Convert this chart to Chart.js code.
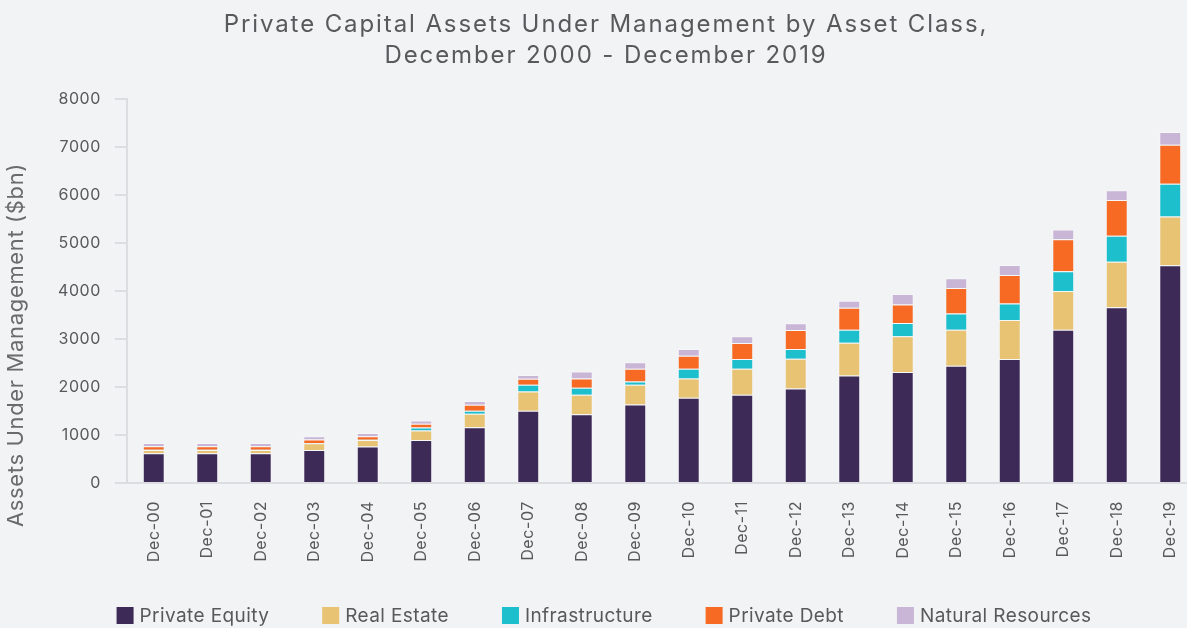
<!DOCTYPE html>
<html>
<head>
<meta charset="utf-8">
<script src="https://cdn.jsdelivr.net/npm/chart.js@4"></script>
<style>
html,body{margin:0;padding:0;background:#f2f3f5;overflow:hidden;}
#wrap{width:1212px;height:628px;position:relative;}
canvas{display:block;}
</style>
</head>
<body>
<div id="wrap"><canvas id="c" width="1212" height="628"></canvas></div>
<script>
const categories = ["Dec-00","Dec-01","Dec-02","Dec-03","Dec-04","Dec-05","Dec-06","Dec-07","Dec-08","Dec-09","Dec-10","Dec-11","Dec-12","Dec-13","Dec-14","Dec-15","Dec-16","Dec-17","Dec-18","Dec-19"];
const privateEquity    = [620, 620, 620, 690, 758, 898, 1163, 1503, 1434, 1635, 1775, 1837, 1969, 2240, 2311, 2443, 2582, 3194, 3660, 4537];
const realEstate       = [70, 70, 70, 140, 140, 195, 278, 403, 403, 410, 403, 543, 619, 682, 745, 752, 814, 808, 947, 1016];
const infrastructure   = [5, 5, 5, 5, 5, 63, 63, 140, 146, 70, 202, 202, 202, 271, 278, 334, 341, 410, 543, 682];
const privateDebt      = [70, 70, 70, 70, 70, 77, 125, 125, 195, 264, 271, 334, 397, 459, 383, 536, 598, 668, 745, 814];
const naturalResources = [70, 70, 70, 70, 70, 70, 77, 77, 146, 139, 139, 139, 139, 146, 223, 202, 209, 202, 202, 264];
const seriesNames = ["Private Equity","Real Estate","Infrastructure","Private Debt","Natural Resources"];
const seriesColors = ["#3d2a56","#e8c373","#1dbfcd","#f66a24","#c9b6d6"];
const yTicks = [0,1000,2000,3000,4000,5000,6000,7000,8000];
const titleLines = ["Private Capital Assets Under Management by Asset Class,","December 2000 - December 2019"];
const yTitle = "Assets Under Management ($bn)";

const FONT = "Inter, 'Noto Sans', sans-serif";
const TEXT = "#58595b";

const seriesData = [privateEquity, realEstate, infrastructure, privateDebt, naturalResources];

const extrasPlugin = {
  id: 'extras',
  beforeDraw(chart) {
    chart.ctx.letterSpacing = '0.6px';
  },
  afterDraw(chart) {
    const ctx = chart.ctx;
    ctx.save();
    const cx = 606;
    // title
    ctx.letterSpacing = '1.9px';
    ctx.font = `24px ${FONT}`;
    ctx.fillStyle = TEXT;
    ctx.textAlign = 'center';
    ctx.textBaseline = 'alphabetic';
    ctx.fillText(titleLines[0], cx, 32);
    ctx.fillText(titleLines[1], cx, 63);
    // legend
    ctx.letterSpacing = '0.4px';
    ctx.font = `19px ${FONT}`;
    const box = 17, gap = 6, spacing = 53;
    const widths = chart.data.datasets.map(d => box + gap + ctx.measureText(d.label).width);
    const total = widths.reduce((a, b) => a + b, 0) + spacing * (widths.length - 1);
    let x = 604 - total / 2;
    const yMid = 615.5;
    chart.data.datasets.forEach((ds, i) => {
      ctx.fillStyle = ds.backgroundColor;
      ctx.fillRect(x, yMid - box / 2, box, box);
      ctx.fillStyle = TEXT;
      ctx.textBaseline = 'middle';
      ctx.textAlign = 'left';
      ctx.fillText(ds.label, x + box + gap, yMid + 1);
      x += widths[i] + spacing;
    });
    // y-axis title
    ctx.letterSpacing = '0.65px';
    ctx.translate(16, 345);
    ctx.rotate(-Math.PI / 2);
    ctx.font = `22px ${FONT}`;
    ctx.textAlign = 'center';
    ctx.textBaseline = 'middle';
    ctx.fillStyle = '#6a6b6d';
    ctx.fillText(yTitle, 0, 0);
    ctx.restore();
    ctx.letterSpacing = '0px';
  }
};

new Chart(document.getElementById('c'), {
  type: 'bar',
  data: {
    labels: categories,
    datasets: seriesData.map((d, i) => ({
      label: seriesNames[i],
      data: d,
      backgroundColor: seriesColors[i],
      borderColor: 'rgba(255,255,255,0.35)',
      borderWidth: 1,
      barPercentage: 0.41,
      categoryPercentage: 1.0
    }))
  },
  options: {
    responsive: false,
    animation: false,
    layout: { padding: { top: 99, right: 15, bottom: 0, left: 0 } },
    plugins: {
      legend: { display: false },
      tooltip: { enabled: false },
      title: { display: false }
    },
    scales: {
      x: {
        stacked: true,
        grid: { display: false, drawTicks: false },
        border: { display: true, color: '#dcdde0', width: 2 },
        ticks: { autoSkip: false, minRotation: 90, maxRotation: 90, padding: 18, color: TEXT, font: { family: FONT, size: 16 } },
        afterFit(s) { s.height = 145; }
      },
      y: {
        stacked: true,
        min: 0,
        max: 8000,
        afterBuildTicks(s) { s.ticks = yTicks.map(v => ({ value: v })); },
        ticks: { padding: 14, color: TEXT, font: { family: FONT, size: 16 }, callback: v => String(v) },
        grid: { drawOnChartArea: false, drawTicks: true, tickLength: 12, color: '#dcdde0', lineWidth: 2 },
        border: { display: true, color: '#dcdde0', width: 2 },
        afterFit(s) { s.width = 127; }
      }
    }
  },
  plugins: [extrasPlugin]
});
</script>
</body>
</html>
